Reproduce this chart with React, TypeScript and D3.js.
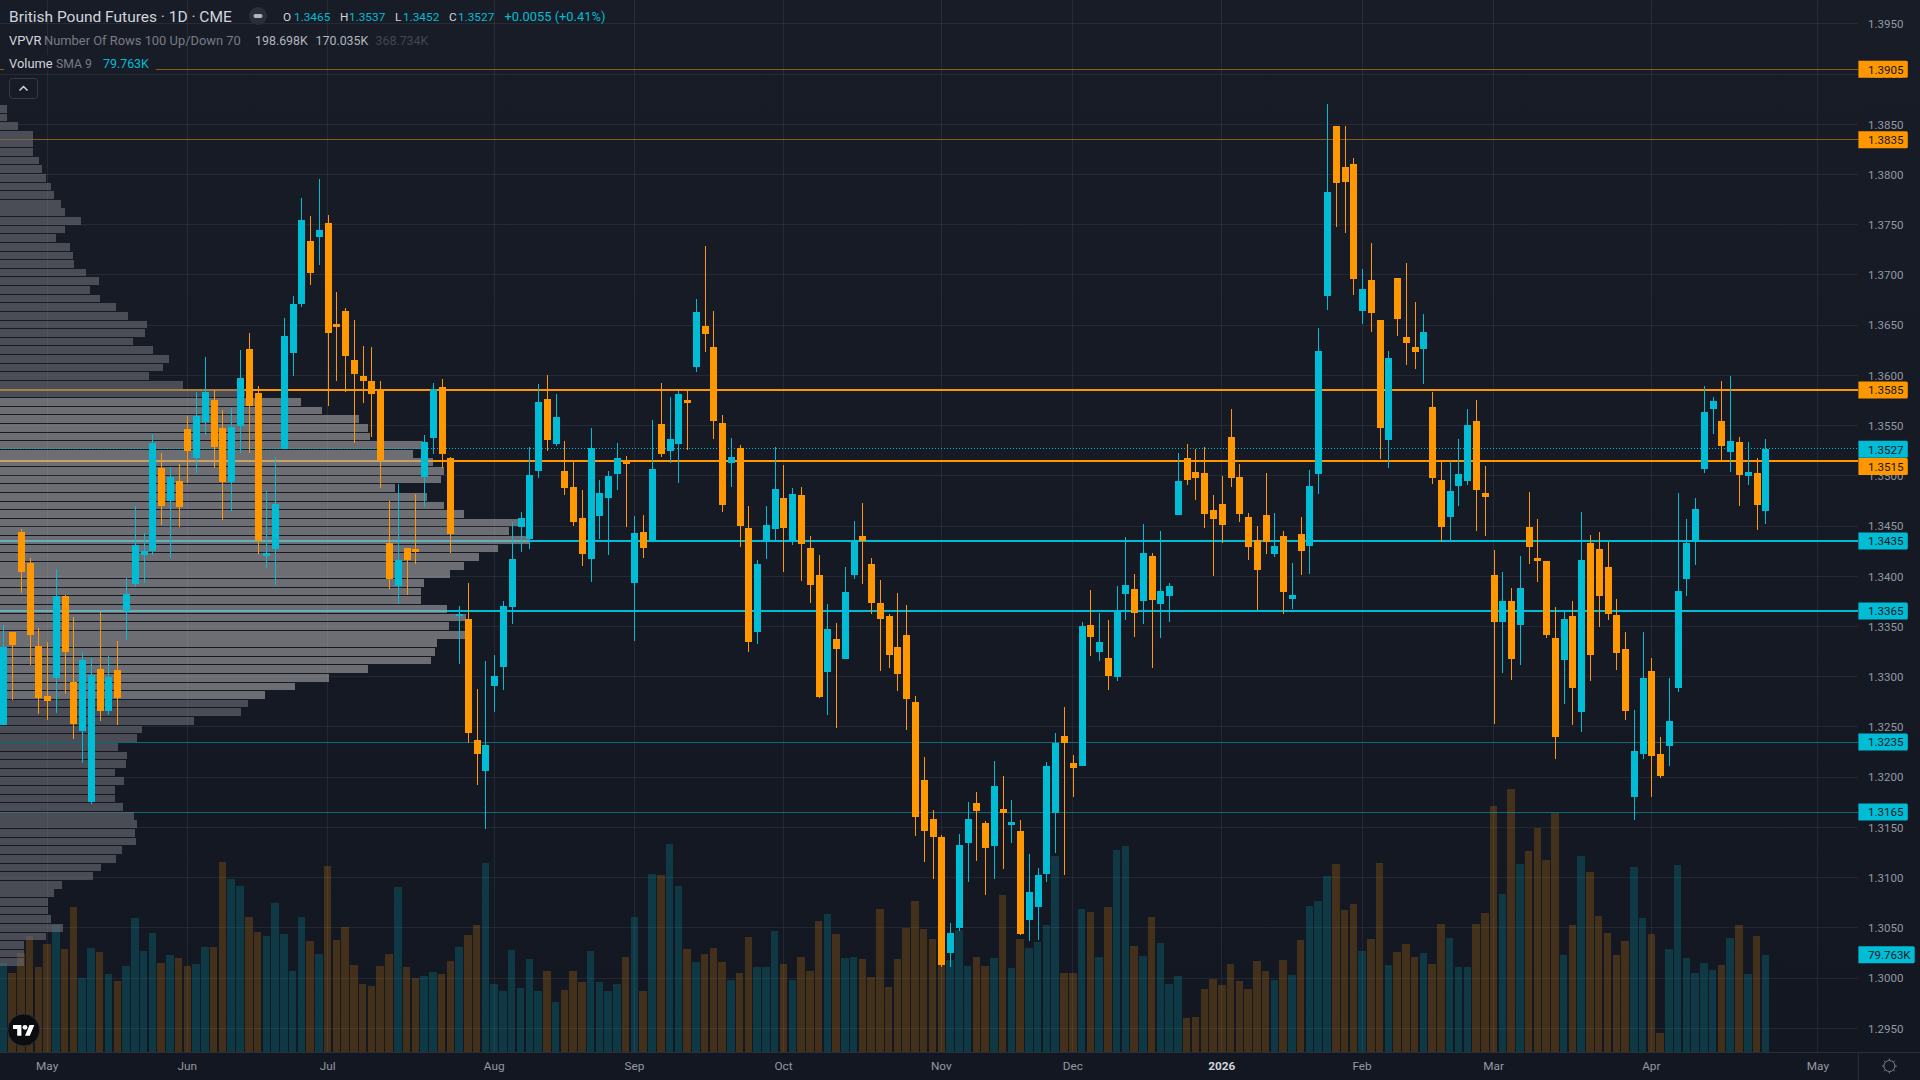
import React from "react";
import * as d3 from "d3";

const opens = [
1.3252,1.3345,1.3444,1.3413,1.3331,1.3281,1.3299,1.3380,1.3295,1.3246,
1.3175,1.3308,1.3266,1.3307,1.3365,1.3392,1.3421,1.3425,1.3508,1.3475,
1.3495,1.3547,1.3518,1.3554,1.3576,1.3548,1.3494,1.3550,1.3626,1.3582,
1.3420,1.3427,1.3527,1.3622,1.3671,1.3734,1.3738,1.3752,1.3651,1.3664,
1.3615,1.3599,1.3594,1.3586,1.3433,1.3390,1.3428,1.3427,1.3499,1.3538,
1.3588,1.3518,1.3360,1.3357,1.3237,1.3206,1.3291,1.3310,1.3369,1.3449,
1.3437,1.3505,1.3577,1.3532,1.3505,1.3489,1.3458,1.3417,1.3460,1.3478,
1.3502,1.3515,1.3393,
1.3444,1.3434,1.3552,1.3525,1.3532,1.3576,1.3608,1.3649,1.3628,1.3553,
1.3513,1.3528,1.3448,1.3345,1.3434,1.3447,1.3478,1.3435,1.3481,1.3428,
1.3401,1.3305,1.3338,1.3318,1.3401,1.3440,1.3412,1.3373,1.3360,1.3330,
1.3342,1.3275,1.3197,1.3158,1.3140,1.3025,1.3050,1.3134,1.3174,1.3154,
1.3131,1.3168,1.3152,1.3146,1.3058,1.3071,1.3104,1.3164,1.3241,1.3214,
1.3211,1.3352,1.3325,1.3319,1.3300,1.3382,1.3387,1.3375,1.3420,1.3372,
1.3380,1.3461,1.3518,1.3504,1.3503,1.3466,1.3472,1.3539,1.3499,1.3459,
1.3436,1.3461,1.3422,
1.3440,1.3377,1.3442,1.3430,1.3502,1.3679,1.3848,1.3807,1.3810,1.3664,
1.3695,1.3655,1.3536,1.3697,1.3638,1.3628,1.3626,1.3569,1.3496,1.3459,
1.3490,1.3495,1.3555,1.3483,1.3401,1.3355,1.3375,1.3352,1.3449,1.3418,
1.3415,1.3339,1.3317,1.3360,1.3265,1.3433,1.3427,1.3409,1.3361,1.3328,
1.3180,1.3223,1.3306,1.3223,1.3231,1.3289,1.3397,1.3435,1.3507,1.3567,
1.3555,1.3524,1.3534,1.3500,1.3503,1.3465];

const closes = [
1.3330,1.3332,1.3404,1.3342,1.3279,1.3276,1.3380,1.3325,1.3253,1.3317,
1.3302,1.3266,1.3300,1.3279,1.3382,1.3431,1.3425,1.3533,1.3470,1.3499,
1.3469,1.3525,1.3560,1.3583,1.3529,1.3494,1.3549,1.3597,1.3570,1.3435,
1.3423,1.3472,1.3639,1.3671,1.3755,1.3702,1.3745,1.3642,1.3648,1.3619,
1.3601,1.3594,1.3581,1.3516,1.3397,1.3416,1.3416,1.3424,1.3534,1.3586,
1.3522,1.3442,1.3362,1.3244,1.3223,1.3232,1.3301,1.3370,1.3417,1.3458,
1.3501,1.3574,1.3536,1.3559,1.3488,1.3454,1.3422,1.3528,1.3483,1.3500,
1.3518,1.3512,1.3443,
1.3428,1.3507,1.3522,1.3537,1.3581,1.3573,1.3663,1.3641,1.3555,1.3471,
1.3519,1.3450,1.3335,1.3412,1.3451,1.3487,1.3448,1.3482,1.3432,1.3391,
1.3280,1.3348,1.3328,1.3384,1.3435,1.3435,1.3373,1.3357,1.3322,1.3303,
1.3278,1.3160,1.3146,1.3140,1.3013,1.3045,1.3132,1.3158,1.3166,1.3130,
1.3191,1.3164,1.3155,1.3044,1.3086,1.3103,1.3211,1.3234,1.3234,1.3209,
1.3351,1.3340,1.3335,1.3301,1.3366,1.3391,1.3363,1.3423,1.3376,1.3385,
1.3390,1.3495,1.3496,1.3498,1.3462,1.3457,1.3451,1.3498,1.3462,1.3429,
1.3406,1.3434,1.3430,
1.3384,1.3381,1.3425,1.3490,1.3624,1.3783,1.3792,1.3793,1.3696,1.3686,
1.3662,1.3548,1.3617,1.3656,1.3632,1.3623,1.3643,1.3498,1.3449,1.3485,
1.3502,1.3551,1.3486,1.3479,1.3355,1.3375,1.3318,1.3388,1.3429,1.3415,
1.3342,1.3240,1.3357,1.3289,1.3416,1.3322,1.3380,1.3362,1.3324,1.3266,
1.3226,1.3299,1.3221,1.3201,1.3256,1.3385,1.3433,1.3467,1.3564,1.3575,
1.3530,1.3535,1.3501,1.3504,1.3471,1.3527];

const highs = [
1.3352,1.3345,1.3447,1.3418,1.3349,1.3335,1.3407,1.3381,1.3359,1.3325,
1.3319,1.3364,1.3321,1.3336,1.3398,1.3470,1.3443,1.3542,1.3523,1.3509,
1.3512,1.3560,1.3583,1.3618,1.3585,1.3566,1.3568,1.3625,1.3642,1.3589,
1.3485,1.3519,1.3657,1.3679,1.3777,1.3759,1.3796,1.3760,1.3683,1.3667,
1.3655,1.3629,1.3628,1.3594,1.3475,1.3492,1.3428,1.3482,1.3541,1.3592,
1.3596,1.3519,1.3370,1.3393,1.3288,1.3316,1.3322,1.3375,1.3454,1.3464,
1.3529,1.3591,1.3600,1.3581,1.3535,1.3514,1.3486,1.3548,1.3496,1.3505,
1.3533,1.3520,1.3460,
1.3461,1.3556,1.3592,1.3579,1.3584,1.3586,1.3676,1.3729,1.3664,1.3561,
1.3538,1.3531,1.3470,1.3416,1.3470,1.3529,1.3511,1.3488,1.3489,1.3440,
1.3421,1.3372,1.3354,1.3409,1.3455,1.3473,1.3418,1.3396,1.3362,1.3383,
1.3371,1.3281,1.3220,1.3167,1.3142,1.3055,1.3143,1.3175,1.3185,1.3156,
1.3216,1.3201,1.3177,1.3157,1.3124,1.3110,1.3215,1.3244,1.3270,1.3222,
1.3355,1.3386,1.3363,1.3356,1.3390,1.3439,1.3402,1.3452,1.3423,1.3445,
1.3393,1.3523,1.3532,1.3527,1.3529,1.3481,1.3500,1.3567,1.3512,1.3463,
1.3450,1.3503,1.3463,
1.3445,1.3413,1.3459,1.3506,1.3647,1.3870,1.3848,1.3848,1.3816,1.3706,
1.3732,1.3655,1.3624,1.3697,1.3712,1.3673,1.3661,1.3583,1.3515,1.3515,
1.3537,1.3567,1.3576,1.3510,1.3426,1.3404,1.3388,1.3420,1.3484,1.3457,
1.3415,1.3369,1.3365,1.3375,1.3464,1.3441,1.3444,1.3434,1.3377,1.3345,
1.3267,1.3345,1.3319,1.3240,1.3299,1.3483,1.3457,1.3478,1.3589,1.3579,
1.3594,1.3599,1.3539,1.3534,1.3518,1.3537];

const lows = [
1.3252,1.3277,1.3383,1.3312,1.3263,1.3257,1.3264,1.3283,1.3238,1.3214,
1.3173,1.3256,1.3262,1.3252,1.3337,1.3389,1.3393,1.3421,1.3451,1.3418,
1.3449,1.3493,1.3503,1.3541,1.3508,1.3456,1.3465,1.3523,1.3523,1.3422,
1.3408,1.3391,1.3527,1.3599,1.3668,1.3690,1.3710,1.3570,1.3594,1.3583,
1.3533,1.3573,1.3539,1.3488,1.3387,1.3372,1.3381,1.3412,1.3469,1.3522,
1.3508,1.3423,1.3313,1.3234,1.3192,1.3148,1.3265,1.3287,1.3353,1.3424,
1.3427,1.3498,1.3525,1.3530,1.3481,1.3450,1.3410,1.3394,1.3437,1.3421,
1.3486,1.3449,1.3336,
1.3418,1.3434,1.3519,1.3513,1.3493,1.3526,1.3603,1.3623,1.3537,1.3464,
1.3489,1.3429,1.3325,1.3333,1.3417,1.3436,1.3404,1.3431,1.3395,1.3373,
1.3279,1.3262,1.3249,1.3318,1.3397,1.3392,1.3362,1.3306,1.3309,1.3286,
1.3247,1.3141,1.3116,1.3099,1.3011,1.3011,1.3047,1.3096,1.3117,1.3083,
1.3099,1.3109,1.3134,1.3043,1.3037,1.3038,1.3096,1.3125,1.3103,1.3180,
1.3211,1.3321,1.3316,1.3287,1.3296,1.3356,1.3340,1.3353,1.3309,1.3339,
1.3355,1.3461,1.3491,1.3476,1.3448,1.3400,1.3433,1.3489,1.3454,1.3416,
1.3366,1.3422,1.3419,
1.3362,1.3367,1.3401,1.3402,1.3482,1.3665,1.3748,1.3742,1.3680,1.3651,
1.3643,1.3517,1.3508,1.3639,1.3610,1.3606,1.3591,1.3492,1.3434,1.3436,
1.3470,1.3491,1.3445,1.3440,1.3253,1.3304,1.3297,1.3312,1.3412,1.3394,
1.3339,1.3218,1.3273,1.3252,1.3245,1.3296,1.3350,1.3356,1.3307,1.3257,
1.3157,1.3218,1.3180,1.3199,1.3211,1.3285,1.3380,1.3411,1.3503,1.3542,
1.3516,1.3504,1.3470,1.3491,1.3446,1.3452];

const volumes = [
72.8,64.9,81.2,95.1,69.8,88.6,104.1,84.5,118.8,60.8,85.3,82.0,64.0,58.3,70.6,109.8,82.9,97.6,73.0,79.6,
77.1,70.6,72.2,86.1,86.1,155.6,141.7,136.0,110.6,98.4,95.1,122.1,96.8,66.5,110.6,91.0,80.4,152.3,91.9,102.5,
71.4,55.9,54.2,70.6,80.4,135.2,69.8,60.8,62.4,65.7,64.0,74.7,86.1,95.9,104.1,154.8,55.9,50.2,83.7,52.6,
76.3,50.2,66.5,41.2,51.0,66.5,57.5,82.9,57.5,50.2,55.9,78.0,110.6,
50.2,145.8,145.0,170.3,136.0,84.5,73.9,80.4,85.3,73.9,59.2,64.9,94.3,69.8,69.8,99.2,72.2,59.2,78.0,66.5,
107.4,113.1,96.8,77.1,78.0,76.3,61.6,117.2,53.4,76.3,101.7,123.7,100.8,92.7,75.5,75.5,100.0,70.6,78.0,70.6,
77.1,128.6,69.0,92.7,85.3,90.2,104.1,160.5,64.9,64.9,117.2,114.7,78.0,118.8,165.4,168.7,86.9,78.8,110.7,89.4,
55.9,62.4,28.1,28.9,51.8,60.0,55.1,72.2,58.3,51.8,74.7,66.5,59.2,
75.4,63.2,91.8,119.6,123.7,144.1,153.9,116.3,121.2,82.8,92.6,154.7,71.4,82.0,88.5,77.9,81.2,72.2,104.9,93.4,
69.7,69.7,104.9,113.9,201.3,129.4,215.2,153.9,164.6,183.4,157.2,195.6,79.5,104.1,160.5,147.4,111.4,97.5,79.5,91.0,
151.5,109.8,96.7,15.8,84.4,153.1,77.1,64.8,73.0,67.3,71.4,93.4,104.1,64.0,95.1,79.763];

const profileRows = [
17,17,44,81,81,81,96,103,113,125,132,149,159,198,159,137,171,179,181,211,
243,220,245,284,314,360,355,326,375,414,399,365,448,600,737,789,880,902,906,1036,
1012,1061,1088,1080,968,1046,1088,1137,1268,1248,1297,1220,1174,1137,1102,1039,1031,1031,1095,1142,
1100,1139,1071,1066,1056,902,806,723,649,608,590,475,348,336,289,311,309,282,304,282,
282,301,328,336,331,333,299,284,247,228,152,132,118,118,125,154,113,59,59,59];
const valueAreaFirstRow = 34;
const valueAreaLastRow = 68;

const priceTicks = d3.range(1.295, 1.3951, 0.005);
const monthLabels = ["May","Jun","Jul","Aug","Sep","Oct","Nov","Dec","2026","Feb","Mar","Apr","May"];
const monthBars = [5,21,37,56,72,89,107,122,139,155,170,188,207];

const levelPrices = [1.3905,1.3835,1.3585,1.3515,1.3435,1.3365,1.3235,1.3165];
const levelWeights = [1,1,2,2,2,2,1,1];
const levelOpacity = [0.5,0.5,1,1,1,1,0.5,0.5];
const levelHues = ["o","o","o","o","c","c","c","c"];
const lastPrice = 1.3527;
const lastVolumeText = "79.763K";

const CYAN = "#00BCD4";
const ORANGE = "#FF9800";
const FONT = "Roboto, sans-serif";

const xS = d3.scaleLinear().domain([0, 201]).range([3.3, 1765.3]);
const yS = d3.scaleLinear().domain([1.295, 1.385]).range([1028.3, 124.3]);
const vS = d3.scaleLinear().domain([0, 79.763]).range([1052.3, 954.7]);
const pS = d3.scaleLinear().domain([0, 1568]).range([0, 640]);
const rowTop = d3.scaleLinear().domain([0, 100]).range([105, 967]);
const PANE_R = 1858.4;
const PANE_B = 1052;
const col = (i: number) => (closes[i] >= opens[i] ? CYAN : ORANGE);
const hue = (h: string) => (h === "o" ? ORANGE : CYAN);

function PriceLabel({ y, text, fill, w = 49.4 }: { y: number; text: string; fill: string; w?: number }) {
  return (
    <g>
      <path d={`M${PANE_R} ${y - 8.5}H${PANE_R + w - 1.5}q1.5 0 1.5 1.5V${y + 7}q0 1.5 -1.5 1.5H${PANE_R}Z`} fill={fill} />
      <text x={1868} y={y + 4.2} fontSize={11.5} fill="#131722">{text}</text>
    </g>
  );
}

export default function App() {
  const idx = d3.range(opens.length);
  const labelY = [69.3, 139.7, 390, 466.5, 541, 611, 742, 812];
  return (
    <svg width={1920} height={1080} viewBox="0 0 1920 1080"
      style={{ position: "fixed", left: 0, top: 0, display: "block" }} fontFamily={FONT}>
      <defs>
        <linearGradient id="bg" x1="0" y1="0" x2="0" y2="1">
          <stop offset="0" stopColor="#181C27" />
          <stop offset="1" stopColor="#131722" />
        </linearGradient>
      </defs>
      <rect width={1920} height={1080} fill="url(#bg)" />

      {/* grid */}
      <g stroke="#F0F3FA" strokeOpacity={0.07} shapeRendering="crispEdges">
        {priceTicks.map((p, k) => <line key={k} x1={0} x2={PANE_R} y1={yS(p)} y2={yS(p)} />)}
        {monthBars.map((b, k) => <line key={k} x1={xS(b)} x2={xS(b)} y1={0} y2={PANE_B} />)}
      </g>

      {/* volume */}
      <g shapeRendering="crispEdges" fillOpacity={0.2}>
        {idx.map(i => {
          const a = Math.round(xS(i) - 3.75), b = Math.round(xS(i) + 3.75);
          return <rect key={i} x={a} width={b - a} y={vS(volumes[i])} height={vS(0) - vS(volumes[i])} fill={col(i)} />;
        })}
      </g>

      {/* level lines */}
      <g shapeRendering="crispEdges">
        {levelPrices.map((p, k) => (
          <line key={k} x1={0} x2={PANE_R} y1={yS(p)} y2={yS(p)} stroke={hue(levelHues[k])}
            strokeWidth={levelWeights[k]} strokeOpacity={levelOpacity[k]} />
        ))}
      </g>

      {/* volume profile */}
      <g shapeRendering="crispEdges">
        {profileRows.map((v, r) => (
          <rect key={r} x={0} y={rowTop(r)} width={pS(v)} height={7.7}
            fill={r >= valueAreaFirstRow && r <= valueAreaLastRow ? "#A6A6A8" : "#6E7076"} fillOpacity={0.6} />
        ))}
      </g>

      <line x1={2} x2={PANE_R} y1={yS(lastPrice)} y2={yS(lastPrice)} stroke={CYAN} strokeWidth={1} strokeDasharray="1 2" shapeRendering="crispEdges" />

      {/* candles */}
      <g shapeRendering="crispEdges">
        {idx.map(i => {
          const c = Math.round(xS(i));
          const t = yS(Math.max(opens[i], closes[i]));
          const b = yS(Math.min(opens[i], closes[i]));
          return (
            <g key={i} fill={col(i)}>
              <rect x={c} width={1} y={yS(highs[i])} height={yS(lows[i]) - yS(highs[i])} />
              <rect x={c - 3} width={7} y={t} height={Math.max(b - t, 1)} />
            </g>
          );
        })}
      </g>

      {/* axis areas */}
      <rect x={0} y={PANE_B} width={1920} height={28} fill="#131722" />
      <line x1={0} x2={1920} y1={PANE_B + 0.5} y2={PANE_B + 0.5} stroke="#2A2E39" />
      <rect x={PANE_R} y={0} width={62} height={PANE_B} fill="url(#bg)" />
      <line x1={PANE_R} x2={PANE_R} y1={PANE_B} y2={1080} stroke="#2A2E39" />

      {/* axis text */}
      <g fontSize={11.5} fill="#9598A1">
        {priceTicks.map((p, k) => <text key={k} x={1868} y={yS(p) + 4.2}>{p.toFixed(4)}</text>)}
      </g>
      <g fontSize={11.8} fill="#9598A1">
        {monthBars.map((b, k) => (
          <text key={k} x={xS(b)} y={1070} textAnchor="middle"
            fontWeight={monthLabels[k] === "2026" ? 700 : 400}
            fill={monthLabels[k] === "2026" ? "#D1D4DC" : "#9598A1"}>{monthLabels[k]}</text>
        ))}
      </g>

      {/* price labels */}
      {levelPrices.map((p, k) => <PriceLabel key={k} y={labelY[k]} text={p.toFixed(4)} fill={hue(levelHues[k])} />)}
      <PriceLabel y={449.3} text={lastPrice.toFixed(4)} fill={CYAN} />
      <PriceLabel y={954.7} text={lastVolumeText} fill={CYAN} w={56.3} />

      {/* legend */}
      <rect x={4} y={55} width={152} height={16} fill="#181C27" />
      <text x={9} y={21.5} fontSize={15.5} fill="#D1D4DC">British Pound Futures · 1D · CME</text>
      <circle cx={258} cy={16} r={9} fill="#2A2E39" />
      <rect x={253.5} y={14} width={9} height={4} rx={2} fill="#B2B5BE" />
      <g fontSize={11.8}>
        <text x={283} y={20.5} fill="#D1D4DC">O</text><text x={294} y={20.5} fill={CYAN}>1.3465</text>
        <text x={340} y={20.5} fill="#D1D4DC">H</text><text x={349} y={20.5} fill={CYAN}>1.3537</text>
        <text x={395} y={20.5} fill="#D1D4DC">L</text><text x={403} y={20.5} fill={CYAN}>1.3452</text>
        <text x={449} y={20.5} fill="#D1D4DC">C</text><text x={458} y={20.5} fill={CYAN}>1.3527</text>
        <text x={504.5} y={20.5} fill={CYAN} fontSize={12.9}>+0.0055 (+0.41%)</text>
        <text x={9} y={45} fill="#D1D4DC" fontSize={12.9}>VPVR</text>
        <text x={44} y={45} fill="#787B86" fontSize={12.9}>Number Of Rows 100 Up/Down 70</text>
        <text x={255} y={45} fill="#B2B5BE" fontSize={12.4}>198.698K</text>
        <text x={315.5} y={45} fill="#B2B5BE" fontSize={12.4}>170.035K</text>
        <text x={375.5} y={45} fill="#434651" fontSize={12.4}>368.734K</text>
        <text x={9} y={68} fill="#D1D4DC" fontSize={12.9}>Volume</text>
        <text x={56} y={68} fill="#787B86" fontSize={12.2}>SMA 9</text>
        <text x={103} y={68} fill={CYAN} fontSize={12.4}>79.763K</text>
      </g>
      <rect x={9.5} y={78.5} width={28} height={20} rx={3} fill="none" stroke="#363A45" />
      <path d="M19.5 90.5L23.5 86.5L27.5 90.5" fill="none" stroke="#D1D4DC" strokeWidth={1.5} />

      {/* logo */}
      <circle cx={23.7} cy={1030} r={16} fill="#0B0C10" stroke="#2A2E39" />
      <g transform="translate(13 1022.5) scale(0.6)" fill="#fff">
        <path d="M14 22H7V11H0V4h14v18zM28 22h-8l7.5-18h8L28 22z" />
        <circle cx={20} cy={8} r={4} />
      </g>

      {/* gear */}
      <g stroke="#787B86" fill="none" strokeWidth={1}>
        <circle cx={1889.4} cy={1066} r={5.5} />
        {d3.range(8).map(k => {
          const a = (k * Math.PI) / 4;
          return <line key={k} x1={1889.4 + 5.5 * Math.cos(a)} y1={1066 + 5.5 * Math.sin(a)} x2={1889.4 + 7.5 * Math.cos(a)} y2={1066 + 7.5 * Math.sin(a)} />;
        })}
      </g>
    </svg>
  );
}
